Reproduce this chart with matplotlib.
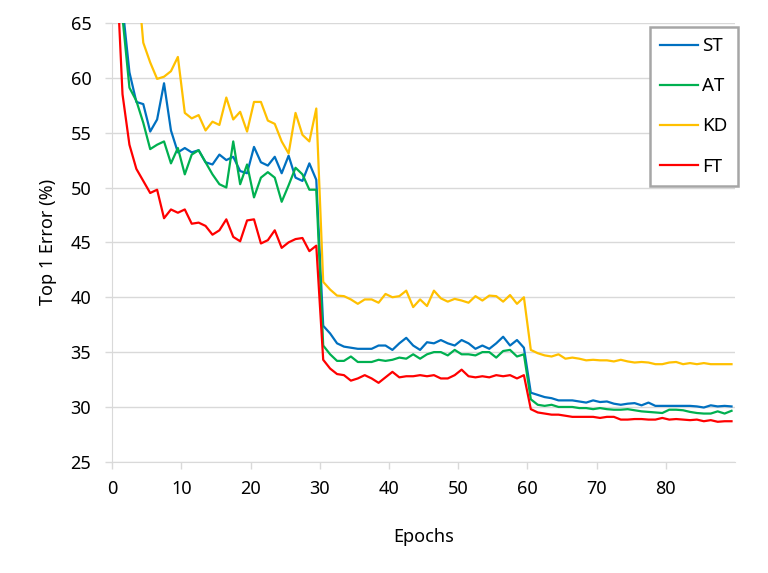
import numpy as np
import matplotlib
matplotlib.use('Agg')
import matplotlib.pyplot as plt
from matplotlib import rcParams

rcParams.update({'font.size': 13, 'font.family': ['Noto Sans', 'DejaVu Sans']})

epochs = np.arange(1, 91)

ST = [72.0, 66.5, 60.5, 57.8, 57.6, 55.1, 56.2, 59.5, 55.2, 53.2,
      53.6, 53.2, 53.4, 52.3, 52.1, 53.0, 52.5, 52.8, 51.5, 51.3,
      53.7, 52.3, 52.0, 52.8, 51.3, 52.9, 50.9, 50.6, 52.2, 50.7,
      37.4, 36.7, 35.8, 35.5, 35.4, 35.3, 35.3, 35.3, 35.6, 35.6,
      35.2, 35.8, 36.3, 35.6, 35.2, 35.9, 35.8, 36.1, 35.8, 35.6,
      36.1, 35.8, 35.3, 35.6, 35.3, 35.8, 36.4, 35.6, 36.1, 35.4,
      31.3, 31.1, 30.9, 30.8, 30.6, 30.6, 30.6, 30.5, 30.4, 30.6,
      30.45, 30.5, 30.3, 30.2, 30.3, 30.35, 30.15, 30.4, 30.1, 30.1,
      30.1, 30.1, 30.1, 30.1, 30.05, 29.95, 30.15, 30.05, 30.1, 30.05]

AT = [72.0, 65.5, 59.1, 57.9, 55.9, 53.5, 53.9, 54.2, 52.2, 53.6,
      51.2, 53.0, 53.4, 52.3, 51.2, 50.3, 50.0, 54.2, 50.3, 52.1,
      49.1, 50.9, 51.4, 50.9, 48.7, 50.2, 51.8, 51.2, 49.8, 49.8,
      35.6, 34.8, 34.2, 34.2, 34.6, 34.1, 34.1, 34.1, 34.3, 34.2,
      34.3, 34.5, 34.4, 34.8, 34.4, 34.8, 35.0, 35.0, 34.7, 35.2,
      34.8, 34.8, 34.7, 35.0, 35.0, 34.5, 35.1, 35.2, 34.6, 34.8,
      30.7, 30.2, 30.1, 30.2, 30.0, 30.0, 30.0, 29.9, 29.9, 29.8,
      29.9, 29.8, 29.75, 29.75, 29.8, 29.7, 29.6, 29.55, 29.5, 29.45,
      29.75, 29.75, 29.7, 29.55, 29.45, 29.4, 29.4, 29.6, 29.4, 29.65]

KD = [78.0, 75.0, 72.5, 70.4, 63.2, 61.4, 59.9, 60.1, 60.6, 61.9,
      56.8, 56.3, 56.6, 55.2, 56.0, 55.7, 58.2, 56.2, 56.9, 55.1,
      57.8, 57.8, 56.1, 55.8, 54.2, 53.1, 56.8, 54.8, 54.2, 57.2,
      41.4, 40.7, 40.15, 40.1, 39.8, 39.4, 39.8, 39.8, 39.5, 40.3,
      40.0, 40.1, 40.6, 39.1, 39.8, 39.2, 40.6, 39.9, 39.6, 39.85,
      39.7, 39.5, 40.1, 39.7, 40.15, 40.1, 39.6, 40.2, 39.4, 40.0,
      35.2, 34.9, 34.7, 34.6, 34.8, 34.4, 34.5, 34.4, 34.25, 34.3,
      34.25, 34.25, 34.15, 34.3, 34.15, 34.05, 34.1, 34.05, 33.9, 33.9,
      34.05, 34.1, 33.9, 34.0, 33.9, 34.0, 33.9, 33.9, 33.9, 33.9]

FT = [72.0, 58.5, 53.9, 51.7, 50.6, 49.5, 49.8, 47.2, 48.0, 47.7,
      48.0, 46.7, 46.8, 46.5, 45.7, 46.1, 47.1, 45.5, 45.1, 47.0,
      47.1, 44.9, 45.2, 46.1, 44.5, 45.0, 45.3, 45.4, 44.2, 44.7,
      34.3, 33.5, 33.0, 32.9, 32.4, 32.6, 32.9, 32.6, 32.2, 32.7,
      33.2, 32.7, 32.8, 32.8, 32.9, 32.8, 32.9, 32.6, 32.6, 32.9,
      33.4, 32.8, 32.7, 32.8, 32.7, 32.9, 32.8, 32.9, 32.6, 32.9,
      29.8, 29.5, 29.4, 29.3, 29.3, 29.2, 29.1, 29.1, 29.1, 29.1,
      29.0, 29.1, 29.1, 28.85, 28.85, 28.9, 28.9, 28.85, 28.85, 29.0,
      28.85, 28.9, 28.85, 28.8, 28.85, 28.7, 28.8, 28.65, 28.7, 28.7]

series = [('ST', ST, '#0070C0'), ('AT', AT, '#00B050'),
          ('KD', KD, '#FFC000'), ('FT', FT, '#FF0000')]

fig = plt.figure(figsize=(7.68, 5.73), dpi=100)
ax = fig.add_axes([0.146, 0.194, 0.811, 0.766])

# excel-style category axis: points sit between tick marks
xpos = epochs - 0.5
for name, vals, col in series:
    ax.plot(xpos, vals, color=col, linewidth=1.6, label=name)

ax.set_xlim(0, 90)
ax.set_ylim(25, 65)
ax.set_xticks(range(0, 81, 10))
ax.set_yticks(range(25, 66, 5))
ax.yaxis.grid(True, color='#d9d9d9', linewidth=1)
ax.set_axisbelow(True)
for s in ['top', 'right']:
    ax.spines[s].set_visible(False)
ax.spines['left'].set_color('#d9d9d9')
ax.spines['bottom'].set_color('#d9d9d9')
ax.tick_params(axis='x', colors='#d9d9d9', length=5, width=1, labelcolor='black', pad=8)
ax.tick_params(axis='y', colors='#d9d9d9', length=5, width=1, labelcolor='black', pad=10)

ax.set_xlabel('Epochs', labelpad=22)
ax.set_ylabel('Top 1 Error (%)', labelpad=10)

leg = ax.legend(loc='upper right', bbox_to_anchor=(1.005, 0.991), borderaxespad=0,
                fancybox=False, edgecolor='#a6a6a6', framealpha=1, fontsize=13.5,
                handlelength=2.0, labelspacing=1.18, borderpad=0.55, handletextpad=0.25)
leg.get_frame().set_linewidth(1.8)

fig.savefig('out.png', dpi=100)
